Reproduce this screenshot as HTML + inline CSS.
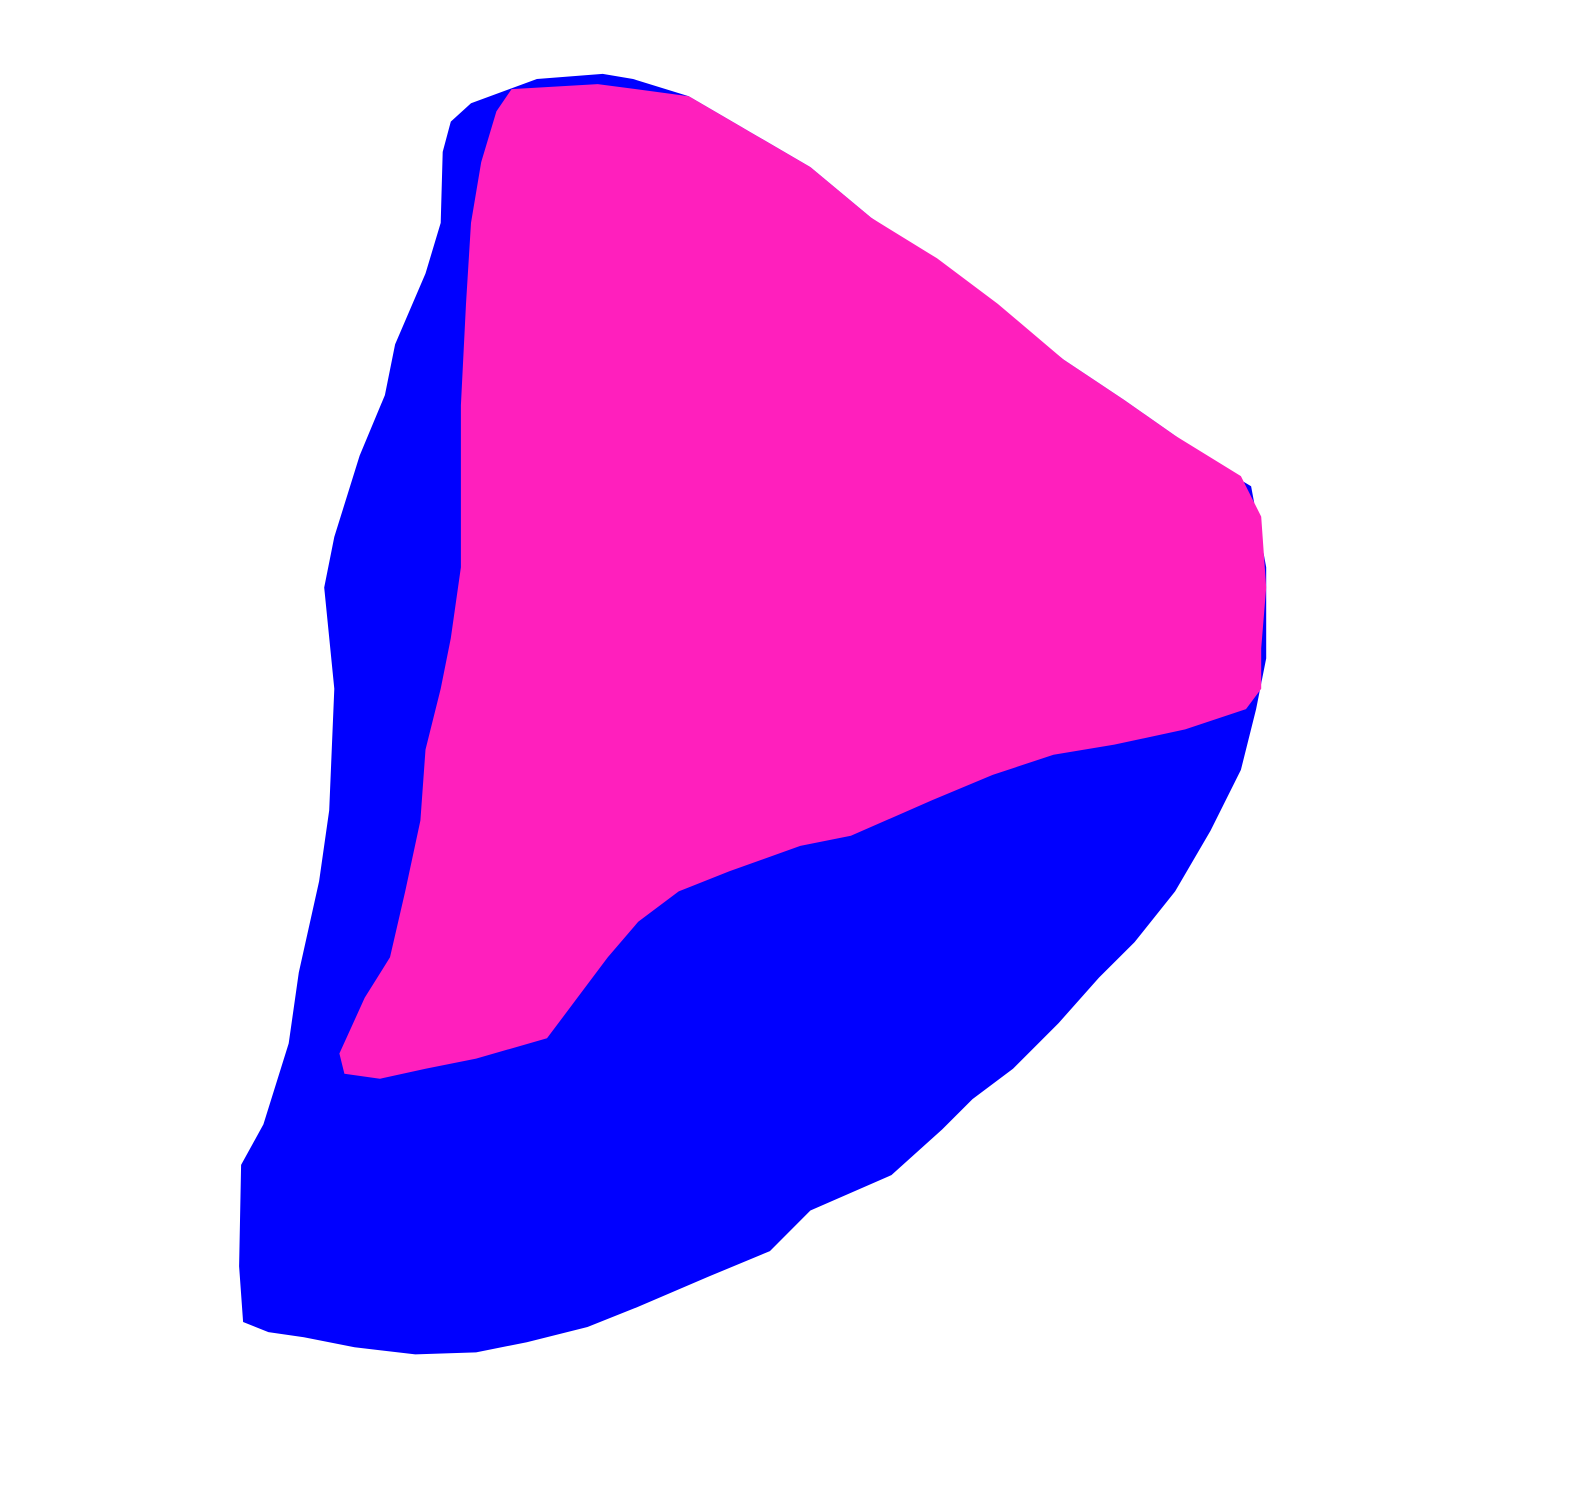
<!DOCTYPE html>
<html>
<head>
<meta charset="utf-8">
<style>
  html,body{margin:0;padding:0;background:#fff;}
  svg{display:block;}
</style>
</head>
<body>
<svg id="chart" width="1585" height="1502" viewBox="0 0 1585 1502">
  <rect x="0" y="0" width="1585" height="1502" fill="#ffffff"/>
  <g id="plot"></g>
</svg>
<script>
const blueX = [595,625,680,740,800,860,920,980,1050,1110,1160,1210,1235,1250,1250,1240,1225,1195,1160,1120,1085,1045,1000,960,930,880,800,760,700,630,580,520,470,410,350,300,265,240,236,238,260,285,295,315,325,330,320,330,355,380,390,420,435,437,445,465,530];
const blueY = [73,78,95,130,165,215,255,300,355,395,430,465,480,560,650,700,760,820,880,930,965,1010,1055,1085,1115,1160,1195,1235,1260,1290,1310,1325,1335,1337,1330,1320,1315,1305,1250,1150,1110,1030,960,870,800,680,580,530,450,390,340,270,220,150,120,102,78];
const pinkX = [505,590,680,740,800,860,925,985,1050,1110,1160,1225,1245,1250,1245,1245,1230,1170,1100,1040,980,920,840,790,720,670,630,600,570,540,470,420,375,340,335,360,385,400,415,420,435,445,455,455,455,460,465,475,490];
const pinkY = [88,83,95,130,165,215,255,300,355,395,430,470,510,580,640,680,700,720,735,745,765,790,825,835,860,880,910,945,985,1025,1045,1055,1065,1060,1040,985,945,880,810,740,680,630,560,480,400,300,220,160,110];

const xScale = v => v * 1.013;
const yScale = v => v * 1.013;
const NS = 'http://www.w3.org/2000/svg';
const plot = document.getElementById('plot');

function drawPoly(xs, ys, color, name){
  const pts = xs.map((x,i)=> xScale(x).toFixed(1)+','+yScale(ys[i]).toFixed(1)).join(' ');
  const p = document.createElementNS(NS,'polygon');
  p.setAttribute('points', pts);
  p.setAttribute('fill', color);
  
  
  plot.appendChild(p);
}
drawPoly(blueX, blueY, '#0000ff', 'series-blue-area');
drawPoly(pinkX, pinkY, '#ff1fbd', 'series-pink-area');
</script>
</body>
</html>
